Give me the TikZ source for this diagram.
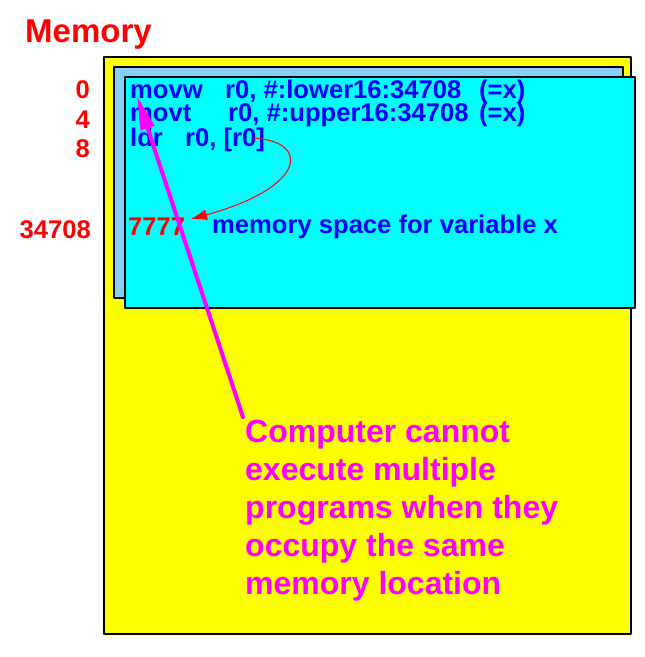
\documentclass[tikz,border=0pt]{standalone}
\usepackage{fontspec}
\setmainfont{Liberation Sans}
\usetikzlibrary{arrows.meta}
\definecolor{memyellow}{RGB}{255,255,0}
\definecolor{proglight}{RGB}{135,206,250}
\definecolor{progcyan}{RGB}{0,255,255}
\definecolor{notemagenta}{RGB}{255,0,255}
\definecolor{codeblue}{RGB}{0,0,255}
\definecolor{addrred}{RGB}{255,0,0}
\tikzstyle{every path}=[line cap=round, line join=round]
\tikzset{
  block/.style={draw=black, line width=1.3pt},
  code/.style={codeblue, inner sep=0pt, anchor=base west, font=\fontsize{25.6}{30}\selectfont\bfseries},
  addr/.style={addrred, inner sep=0pt, anchor=base east, font=\fontsize{25.6}{30}\selectfont\bfseries},
  note/.style={notemagenta, inner sep=0pt, anchor=north west, align=left, font=\fontsize{32}{38}\selectfont\bfseries},
  pointer/.style={notemagenta, line width=4pt, -{Triangle[length=34pt,width=14pt]}},
  follow/.style={addrred, line width=1pt, -{Latex[length=16pt,width=11pt]}}
}

\begin{document}
\begin{tikzpicture}[x=1pt,y=-1pt]
  \useasboundingbox (0,0) rectangle (645,657);
  %memoria
  \node[addrred, inner sep=0pt, anchor=base west, font=\fontsize{33}{38}\selectfont\bfseries] (title) at (25,42) {Memory};
  \draw[block, fill=memyellow] (104,57) rectangle (631,634);
  %programas
  \draw[block, fill=proglight] (114,67) rectangle (623,298);
  \draw[block, fill=progcyan] (125,77) rectangle (635,308);
  %direcciones
  \node[addr] (a0) at (90,98) {0};
  \node[addr] (a4) at (90,128) {4};
  \node[addr] (a8) at (90,157) {8};
  \node[addr] (ax) at (91,238) {34708};
  %instrucciones
  \node[code] (movw) at (130,98) {movw};
  \node[code] (movwop) at (225,98) {r0, \#:lower16:34708};
  \node[code] (movwx) at (479,98) {(=x)};
  \node[code] (movt) at (130,121) {movt};
  \node[code] (movtop) at (228,121) {r0, \#:upper16:34708};
  \node[code] (movtx) at (479,121) {(=x)};
  \node[code] (ldr) at (130,146) {ldr};
  \node[code] (ldrop) at (185,146) {r0, [r0]};
  %variable x
  \node[code, addrred] (val) at (128,235) {7777};
  \node[code] (valtxt) at (212,233) {memory space for variable x};
  %nota
  \node[note] (msg) at (245,420) {Computer cannot\\execute multiple\\programs when they\\occupy the same\\memory location};
  %flechas
  \coordinate (ldrend) at (254,138);
  \coordinate (valtip) at (191,219);
  \coordinate (msgtail) at (243,417);
  \coordinate (movwtip) at (137,96);
  \draw[follow] (ldrend) .. controls (312,142) and (305,188) .. (valtip);
  \draw[pointer] (msgtail) -- (movwtip);
\end{tikzpicture}
\end{document}
